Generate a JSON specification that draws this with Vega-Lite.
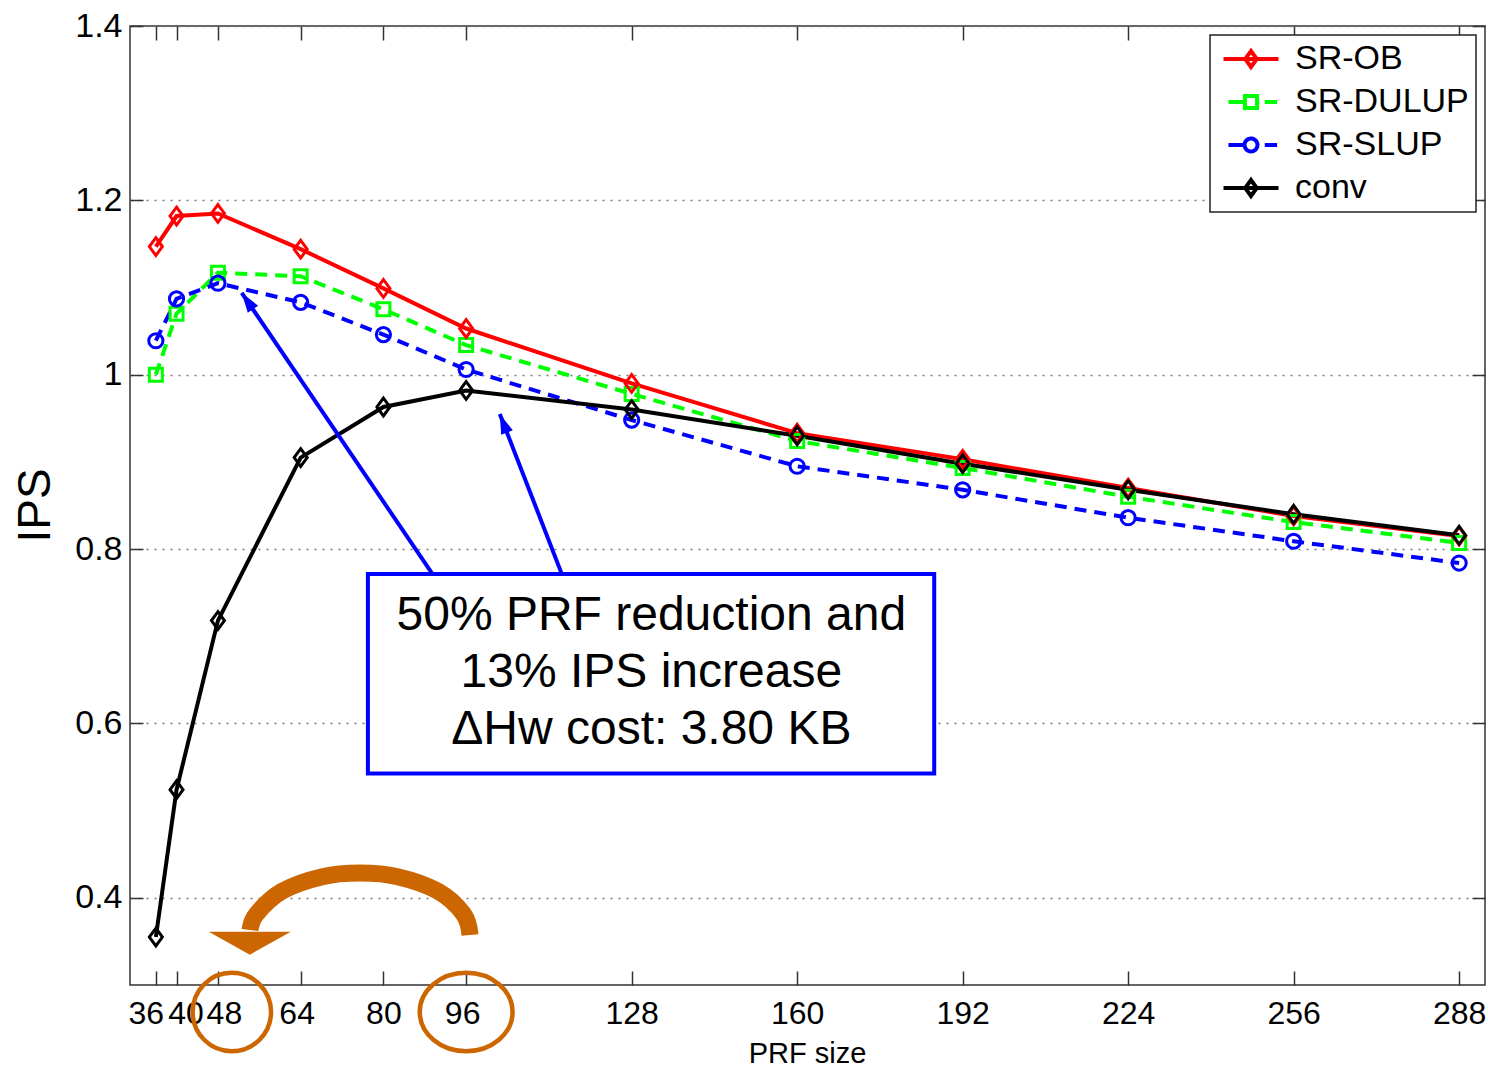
{
  "$schema": "https://vega.github.io/schema/vega-lite/v6.json",
  "autosize": "none",
  "width": 1355,
  "height": 959,
  "padding": {"left": 130, "top": 26, "right": 3, "bottom": 83},
  "background": "white",
  "config": {
    "view": {"stroke": "#333333", "strokeWidth": 1.5, "fill": "white"},
    "font": "Liberation Sans, Arial, sans-serif"
  },
  "datasets": {
    "main": [
      {"series": "SR-OB", "prf": 36, "ips": 1.147}, {"series": "SR-OB", "prf": 40, "ips": 1.182}, {"series": "SR-OB", "prf": 48, "ips": 1.185}, {"series": "SR-OB", "prf": 64, "ips": 1.144}, {"series": "SR-OB", "prf": 80, "ips": 1.099}, {"series": "SR-OB", "prf": 96, "ips": 1.053}, {"series": "SR-OB", "prf": 128, "ips": 0.99}, {"series": "SR-OB", "prf": 160, "ips": 0.933}, {"series": "SR-OB", "prf": 192, "ips": 0.903}, {"series": "SR-OB", "prf": 224, "ips": 0.87}, {"series": "SR-OB", "prf": 256, "ips": 0.838}, {"series": "SR-OB", "prf": 288, "ips": 0.815},
      {"series": "SR-DULUP", "prf": 36, "ips": 1.0}, {"series": "SR-DULUP", "prf": 40, "ips": 1.07}, {"series": "SR-DULUP", "prf": 48, "ips": 1.117}, {"series": "SR-DULUP", "prf": 64, "ips": 1.113}, {"series": "SR-DULUP", "prf": 80, "ips": 1.075}, {"series": "SR-DULUP", "prf": 96, "ips": 1.034}, {"series": "SR-DULUP", "prf": 128, "ips": 0.978}, {"series": "SR-DULUP", "prf": 160, "ips": 0.924}, {"series": "SR-DULUP", "prf": 192, "ips": 0.893}, {"series": "SR-DULUP", "prf": 224, "ips": 0.86}, {"series": "SR-DULUP", "prf": 256, "ips": 0.831}, {"series": "SR-DULUP", "prf": 288, "ips": 0.807},
      {"series": "SR-SLUP", "prf": 36, "ips": 1.039}, {"series": "SR-SLUP", "prf": 40, "ips": 1.087}, {"series": "SR-SLUP", "prf": 48, "ips": 1.105}, {"series": "SR-SLUP", "prf": 64, "ips": 1.083}, {"series": "SR-SLUP", "prf": 80, "ips": 1.046}, {"series": "SR-SLUP", "prf": 96, "ips": 1.006}, {"series": "SR-SLUP", "prf": 128, "ips": 0.948}, {"series": "SR-SLUP", "prf": 160, "ips": 0.895}, {"series": "SR-SLUP", "prf": 192, "ips": 0.868}, {"series": "SR-SLUP", "prf": 224, "ips": 0.836}, {"series": "SR-SLUP", "prf": 256, "ips": 0.809}, {"series": "SR-SLUP", "prf": 288, "ips": 0.784},
      {"series": "conv", "prf": 36, "ips": 0.355}, {"series": "conv", "prf": 40, "ips": 0.524}, {"series": "conv", "prf": 48, "ips": 0.718}, {"series": "conv", "prf": 64, "ips": 0.905}, {"series": "conv", "prf": 80, "ips": 0.963}, {"series": "conv", "prf": 96, "ips": 0.982}, {"series": "conv", "prf": 128, "ips": 0.96}, {"series": "conv", "prf": 160, "ips": 0.93}, {"series": "conv", "prf": 192, "ips": 0.898}, {"series": "conv", "prf": 224, "ips": 0.868}, {"series": "conv", "prf": 256, "ips": 0.84}, {"series": "conv", "prf": 288, "ips": 0.816}
    ],
    "box": [{"x": 77.0, "x2": 186.5, "y": 0.7713, "y2": 0.5425}],
    "boxtext": [
      {"t": "50% PRF reduction and", "x": 131.8, "y": 0.723},
      {"t": "13% IPS increase", "x": 131.8, "y": 0.6575},
      {"t": "ΔHw cost: 3.80 KB", "x": 131.8, "y": 0.592}
    ],
    "arrows": [
      {"x": 89.5, "y": 0.7713, "x2": 52.6, "y2": 1.094},
      {"x": 114.5, "y": 0.7713, "x2": 102.5, "y2": 0.955}
    ],
    "arc": [
      {"i": 1, "x": 96.74, "y": 0.3573},
      {"i": 2, "x": 95.47, "y": 0.3816},
      {"i": 3, "x": 90.52, "y": 0.4076},
      {"i": 4, "x": 82.74, "y": 0.4242},
      {"i": 5, "x": 75.47, "y": 0.4284},
      {"i": 6, "x": 68.2, "y": 0.4242},
      {"i": 7, "x": 60.43, "y": 0.4076},
      {"i": 8, "x": 55.48, "y": 0.3816},
      {"i": 9, "x": 54.2, "y": 0.3631}
    ]
  },
  "resolve": {"axis": {"x": "independent", "y": "independent"}},
  "layer": [
    {
      "data": {"name": "main"},
      "transform": [{"filter": {"field": "series", "oneOf": ["SR-DULUP", "SR-SLUP"]}}],
      "mark": {"type": "line", "strokeWidth": 4, "strokeDash": [12, 8]},
      "encoding": {
        "x": {"field": "prf", "type": "quantitative", "axis": null},
        "y": {"field": "ips", "type": "quantitative", "axis": null},
        "color": {
          "field": "series", "type": "nominal",
          "scale": {"domain": ["SR-OB", "SR-DULUP", "SR-SLUP", "conv"], "range": ["#FF0000", "#00FF00", "#0000FF", "#000000"]},
          "legend": {
            "title": null, "orient": "none", "legendX": 1080, "legendY": 9,
            "padding": 7, "fillColor": "white", "strokeColor": "#222",
            "labelFontSize": 34, "labelColor": "#000", "labelLimit": 400, "labelOffset": 27, "symbolOffset": 17,
            "symbolSize": 756, "symbolStrokeWidth": 4, "rowPadding": 9,
            "encode": {
              "legend": {"update": {"strokeWidth": {"value": 1.5}}},
              "symbols": {"update": {
                "shape": {"signal": "datum.value === 'SR-DULUP' ? 'M-1.64,0L-0.44,0M0.44,0L0.6,0M1.0,0L1.9,0M-0.44,-0.44L0.44,-0.44L0.44,0.44L-0.44,0.44Z' : datum.value === 'SR-SLUP' ? 'M-1.64,0L-0.47,0M0.47,0L0.6,0M1.0,0L1.9,0M0.47,0A0.47,0.47 0 1,1 -0.47,0A0.47,0.47 0 1,1 0.47,0Z' : 'M-2,0L2,0M0,-0.58L0.42,0L0,0.58L-0.42,0Z'"},
                "fill": {"value": "transparent"},
                "strokeDash": {"value": [1, 0]}
              }}
            }
          }
        }
      }
    },
    {
      "data": {"name": "main"},
      "transform": [{"filter": {"field": "series", "oneOf": ["SR-OB", "conv"]}}],
      "mark": {"type": "line", "strokeWidth": 4},
      "encoding": {
        "x": {
          "field": "prf", "type": "quantitative",
          "scale": {"domain": [31, 293], "nice": false, "zero": false},
          "axis": {
            "orient": "bottom", "values": [36, 40, 48, 64, 80, 96, 128, 160, 192, 224, 256, 288],
            "title": "PRF size", "titleFontSize": 29, "titleFontWeight": "normal", "titleColor": "#000",
            "titleX": 677, "titleY": 68, "titleBaseline": "middle", "titleAlign": "center",
            "labelFontSize": 32, "labelColor": "#000", "labelPadding": 27, "labelOverlap": false, "labelFlush": false, "labelBound": false,
            "labelOffset": {"condition": [{"test": "datum.value === 36", "value": -10}, {"test": "datum.value === 40", "value": 9}, {"test": "datum.value === 48", "value": 6}, {"test": "datum.value === 64", "value": -4}, {"test": "datum.value === 96", "value": -4}], "value": 0},
            "tickSize": -14, "tickColor": "#333", "tickWidth": 1.5, "domain": false, "grid": false
          }
        },
        "y": {
          "field": "ips", "type": "quantitative",
          "scale": {"domain": [0.3, 1.4], "nice": false, "zero": false},
          "axis": {
            "orient": "left", "values": [0.4, 0.6, 0.8, 1.0, 1.2, 1.4], "format": "~g",
            "title": "IPS", "titleFontSize": 46, "titleFontWeight": "normal", "titleColor": "#000",
            "titleX": -95, "titleY": 479, "titleAngle": -90, "titleAlign": "center", "titleBaseline": "middle",
            "labelFontSize": 34, "labelColor": "#000", "labelPadding": 21, "labelBaseline": "middle",
            "tickSize": -13, "tickColor": "#333", "tickWidth": 1.5, "domain": false,
            "grid": true, "gridColor": "#777", "gridDash": [2, 6], "gridWidth": 1.5
          }
        },
        "color": {"field": "series", "type": "nominal"}
      }
    },
    {
      "data": {"name": "main"},
      "transform": [{"filter": {"field": "series", "equal": "SR-DULUP"}}],
      "mark": {"type": "point", "filled": false, "strokeWidth": 3, "size": 560, "opacity": 1, "color": "#00FF00", "shape": "M-0.55,-0.55L0.55,-0.55L0.55,0.55L-0.55,0.55Z"},
      "encoding": {
        "x": {"field": "prf", "type": "quantitative",
          "axis": {"orient": "top", "values": [36, 40, 48, 64, 80, 96, 128, 160, 192, 224, 256, 288], "labels": false, "title": null, "tickSize": -14, "tickColor": "#333", "tickWidth": 1.5, "domain": false, "grid": false}},
        "y": {"field": "ips", "type": "quantitative",
          "axis": {"orient": "right", "values": [0.4, 0.6, 0.8, 1.0, 1.2, 1.4], "labels": false, "title": null, "tickSize": -13, "tickColor": "#333", "tickWidth": 1.5, "domain": false, "grid": false}}
      }
    },
    {
      "data": {"name": "main"},
      "transform": [{"filter": {"field": "series", "equal": "SR-SLUP"}}],
      "mark": {"type": "point", "filled": false, "strokeWidth": 3, "size": 560, "opacity": 1, "color": "#0000FF", "shape": "M0.6,0A0.6,0.6 0 1,1 -0.6,0A0.6,0.6 0 1,1 0.6,0Z"},
      "encoding": {
        "x": {"field": "prf", "type": "quantitative", "axis": null},
        "y": {"field": "ips", "type": "quantitative", "axis": null}
      }
    },
    {
      "data": {"name": "main"},
      "transform": [{"filter": {"field": "series", "equal": "SR-OB"}}],
      "mark": {"type": "point", "filled": false, "strokeWidth": 3, "size": 560, "opacity": 1, "color": "#FF0000", "shape": "M0,-0.75L0.55,0L0,0.75L-0.55,0Z"},
      "encoding": {
        "x": {"field": "prf", "type": "quantitative", "axis": null},
        "y": {"field": "ips", "type": "quantitative", "axis": null}
      }
    },
    {
      "data": {"name": "main"},
      "transform": [{"filter": {"field": "series", "equal": "conv"}}],
      "mark": {"type": "point", "filled": false, "strokeWidth": 3, "size": 560, "opacity": 1, "color": "#000000", "shape": "M0,-0.75L0.55,0L0,0.75L-0.55,0Z"},
      "encoding": {
        "x": {"field": "prf", "type": "quantitative", "axis": null},
        "y": {"field": "ips", "type": "quantitative", "axis": null}
      }
    },
    {
      "data": {"name": "arrows"},
      "mark": {"type": "rule", "color": "#0000FF", "strokeWidth": 4},
      "encoding": {
        "x": {"field": "x", "type": "quantitative", "axis": null},
        "y": {"field": "y", "type": "quantitative", "axis": null},
        "x2": {"field": "x2"},
        "y2": {"field": "y2"}
      }
    },
    {
      "data": {"values": [{"x": 52.6, "y": 1.094}]},
      "mark": {"type": "point", "shape": "M0,0L0.5,1.6L-0.5,1.6Z", "size": 625, "filled": true, "color": "#0000FF", "angle": 325.8, "opacity": 1},
      "encoding": {
        "x": {"field": "x", "type": "quantitative", "axis": null},
        "y": {"field": "y", "type": "quantitative", "axis": null}
      }
    },
    {
      "data": {"values": [{"x": 102.5, "y": 0.955}]},
      "mark": {"type": "point", "shape": "M0,0L0.5,1.6L-0.5,1.6Z", "size": 625, "filled": true, "color": "#0000FF", "angle": 338.8, "opacity": 1},
      "encoding": {
        "x": {"field": "x", "type": "quantitative", "axis": null},
        "y": {"field": "y", "type": "quantitative", "axis": null}
      }
    },
    {
      "data": {"name": "box"},
      "mark": {"type": "rect", "fill": "white", "stroke": "#0000FF", "strokeWidth": 4},
      "encoding": {
        "x": {"field": "x", "type": "quantitative", "axis": null},
        "x2": {"field": "x2"},
        "y": {"field": "y", "type": "quantitative", "axis": null},
        "y2": {"field": "y2"}
      }
    },
    {
      "data": {"name": "boxtext"},
      "mark": {"type": "text", "fontSize": 48, "color": "#000", "align": "center", "baseline": "middle"},
      "encoding": {
        "x": {"field": "x", "type": "quantitative", "axis": null},
        "y": {"field": "y", "type": "quantitative", "axis": null},
        "text": {"field": "t"}
      }
    },
    {
      "data": {"name": "arc"},
      "mark": {"type": "line", "color": "#CC6600", "strokeWidth": 17, "interpolate": "cardinal", "strokeCap": "butt"},
      "encoding": {
        "x": {"field": "x", "type": "quantitative", "axis": null},
        "y": {"field": "y", "type": "quantitative", "axis": null},
        "order": {"field": "i"}
      }
    },
    {
      "data": {"values": [{"x": 54.16, "y": 0.348}]},
      "mark": {"type": "point", "shape": "M-1,-0.28L1,-0.28L0,0.28Z", "size": 6724, "filled": true, "color": "#CC6600", "opacity": 1},
      "encoding": {
        "x": {"field": "x", "type": "quantitative", "axis": null},
        "y": {"field": "y", "type": "quantitative", "axis": null}
      }
    },
    {
      "data": {"values": [{"x": 50.69, "y": 0.269}]},
      "mark": {"type": "point", "shape": "M0.98,0A0.98,0.98 0 1,1 -0.98,0A0.98,0.98 0 1,1 0.98,0Z", "size": 6400, "filled": false, "stroke": "#CC6600", "strokeWidth": 4.5, "opacity": 1},
      "encoding": {
        "x": {"field": "x", "type": "quantitative", "axis": null},
        "y": {"field": "y", "type": "quantitative", "axis": null}
      }
    },
    {
      "data": {"values": [{"x": 96.0, "y": 0.269}]},
      "mark": {"type": "point", "shape": "M1.16,0A1.16,0.98 0 1,1 -1.16,0A1.16,0.98 0 1,1 1.16,0Z", "size": 6400, "filled": false, "stroke": "#CC6600", "strokeWidth": 4.5, "opacity": 1},
      "encoding": {
        "x": {"field": "x", "type": "quantitative", "axis": null},
        "y": {"field": "y", "type": "quantitative", "axis": null}
      }
    }
  ]
}
